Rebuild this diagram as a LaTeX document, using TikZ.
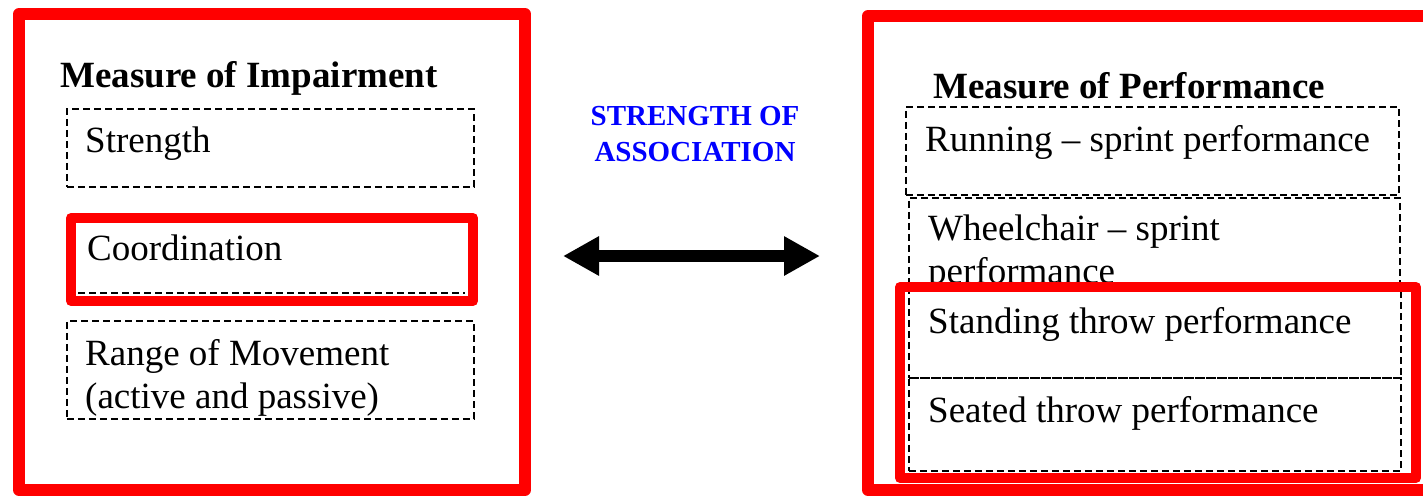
\documentclass[tikz,border=0pt]{standalone}
\usepackage{fontspec}
\setmainfont{Liberation Serif}
\usetikzlibrary{arrows.meta}
\definecolor{rred}{RGB}{255,0,0}
\definecolor{bblue}{RGB}{0,0,255}
\tikzset{
  dashln/.style={draw=black, line width=1.6pt, dash pattern=on 7pt off 4pt},
  dbox/.style={dashln, inner sep=0pt, anchor=north west},
  redbig/.style={draw=rred, line width=12pt, line join=round},
  redsmall/.style={draw=rred, line width=10pt, line join=round},
  lbl/.style={anchor=west, inner sep=0pt, font=\fontsize{37}{43}\selectfont, align=left},
  ttl/.style={anchor=west, inner sep=0pt, font=\fontsize{37}{43}\selectfont\bfseries},
  assoc/.style={inner sep=0pt, font=\fontsize{29}{36}\selectfont\bfseries, text=bblue, align=center},
}
\begin{document}
\begin{tikzpicture}[x=1pt,y=-1pt]
\useasboundingbox (0,0) rectangle (1423,496);
\clip (0,0) rectangle (1423,496);
% left panel
\node[ttl] (ti) at (60,78) {Measure of Impairment};
\node[dbox, minimum width=407pt, minimum height=78pt] (sbox) at (66,108) {};
\node[lbl] (strength) at (85,144) {Strength};
\coordinate (cl) at (78,293);
\coordinate (cr) at (465,293);
\draw[dashln] (cl) -- (cr);
\node[lbl] (coord) at (87,248) {Coordination};
\node[dbox, minimum width=407pt, minimum height=98pt] (rbox) at (66,320) {};
\node[lbl] (range) at (85,378) {Range of Movement\\(active and passive)};
\draw[redsmall] (71,218) rectangle (473,301);
\draw[redbig] (19,14) rectangle (525,490);
% middle
\node[assoc] (assoc) at (695,134) {STRENGTH OF\\ASSOCIATION};
\coordinate (al) at (563,256);
\coordinate (ar) at (820,256);
\draw[line width=12pt, {Triangle[length=36pt,width=37pt]}-{Triangle[length=36pt,width=37pt]}] (al) -- (ar);
% right panel
\node[ttl] (tp) at (933,86) {Measure of Performance};
\node[dbox, minimum width=493pt, minimum height=88pt] (runbox) at (905,106) {};
\node[lbl] (run) at (925,142) {Running – sprint performance};
\node[dbox, minimum width=491pt, minimum height=93pt] (wbox) at (908,197) {};
\node[lbl] (wheel) at (928,253) {Wheelchair – sprint\\performance};
\node[dbox, minimum width=492pt, minimum height=87pt] (stbox) at (908,290) {};
\node[lbl] (stand) at (928,324) {Standing throw performance};
\node[dbox, minimum width=492pt, minimum height=93pt] (sebox) at (908,377) {};
\node[lbl] (seat) at (928,413) {Seated throw performance};
\draw[redsmall] (900,287) rectangle (1416,478);
\draw[redbig] (868,16) rectangle (1440,490);
\end{tikzpicture}
\end{document}
